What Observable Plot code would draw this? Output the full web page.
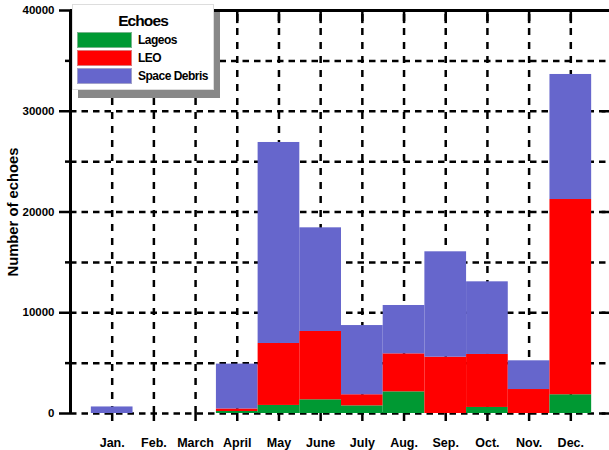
<!DOCTYPE html>
<html>
<head>
<meta charset="utf-8">
<script src="https://cdn.jsdelivr.net/npm/d3@7"></script>
<script src="https://cdn.jsdelivr.net/npm/@observablehq/plot@0.6"></script>
<style>
  html, body { margin: 0; padding: 0; background: #fff; overflow: hidden; }
  #wrap { position: relative; width: 609px; height: 450px; font-family: "Liberation Sans", Arial, sans-serif; }
  #legend { position: absolute; left: 72px; top: 4px; width: 142px; height: 86px; background: #fff;
    border: 1px solid #ddd; box-shadow: 6px 8px 0 #888; box-sizing: border-box; font-weight: bold; }
  #legend .title { position: absolute; left: 0; width: 100%; top: 8px; text-align: center; font-size: 15.5px; letter-spacing: -0.9px; line-height: 16px; }
  #legend .row { position: absolute; left: 4px; height: 16px; }
  #legend .sw { position: absolute; left: 0; top: 0; width: 55px; height: 16px; box-sizing: border-box; border: 1px solid rgba(200,200,200,0.6); }
  #legend .lab { position: absolute; left: 61px; top: 0; font-size: 12px; letter-spacing: -0.5px; line-height: 17px; white-space: nowrap; }
</style>
</head>
<body>
<div id="wrap"></div>
<script>
// ---- data ----
const months = ["Jan.", "Feb.", "March", "April", "May", "June", "July", "Aug.", "Sep.", "Oct.", "Nov.", "Dec."];
const series = ["Lageos", "LEO", "Space Debris"];
const colors = ["#009933", "#ff0000", "#6666cc"];
const lageos      = [0, 0, 0, 200, 800, 1360, 760, 2150, 0, 600, 0, 1860];
const leo         = [0, 0, 0, 250, 6150, 6780, 1100, 3770, 5590, 5260, 2380, 19380];
const spaceDebris = [650, 0, 0, 4450, 19950, 10290, 6870, 4800, 10460, 7210, 2850, 12410];
const yTicks = [0, 10000, 20000, 30000, 40000];
const yMinor = [5000, 15000, 25000, 35000];

// ---- build stacked records ----
const values = [lageos, leo, spaceDebris];
const rows = [];
months.forEach((m, i) => {
  let base = 0;
  values.forEach((arr, s) => {
    const v = arr[i];
    rows.push({m: i + 1, series: series[s], y1: base, y2: base + v});
    base += v;
  });
});
const idx = months.map((m, i) => i + 1);

const chart = Plot.plot({
  width: 609,
  height: 450,
  marginTop: 10,
  marginBottom: 37,
  marginLeft: 70,
  marginRight: 0,
  style: {fontFamily: "'Liberation Sans', Arial, sans-serif", fontWeight: "bold", overflow: "visible"},
  x: {domain: [0, 13], range: [70, 612]},
  y: {domain: [0, 40000]},
  color: {domain: series, range: colors},
  marks: [
    // gridlines
    Plot.ruleY([0, ...yMinor, 10000, 20000, 30000], {x1: 0, x2: 13, stroke: "#000", strokeWidth: 2.5, strokeDasharray: "6.5,5"}),
    Plot.ruleX(idx, {y1: 0, y2: 40000, stroke: "#000", strokeWidth: 2.5, strokeDasharray: "7,7"}),
    // bars
    Plot.rect(rows.filter(d => d.y2 > d.y1), {x1: d => d.m - 0.5, x2: d => d.m + 0.5, y1: "y1", y2: "y2", fill: "series"}),
    // frame
    Plot.ruleX([0], {y1: 0, y2: 40000, stroke: "#000", strokeWidth: 3}),
    Plot.ruleY([40000], {x1: 0, x2: 13, stroke: "#000", strokeWidth: 3}),
    // top inward ticks
    Plot.ruleX(idx, {y1: 40000, y2: 38700, stroke: "#000", strokeWidth: 2.5}),
    // right inward ticks
    Plot.ruleY(yTicks, {x1: 12.75, x2: 13, stroke: "#000", strokeWidth: 2.5}),
    // axes
    Plot.axisY(yTicks, {tickSize: 11, tickPadding: 5, tickFormat: d => String(d), fontSize: 11.5, fontWeight: "bold", strokeWidth: 2.5, label: null}),
    Plot.axisY(yMinor, {tickSize: 5, tickFormat: () => "", strokeWidth: 2.5, label: null}),
    Plot.axisX(idx, {tickSize: 8, tickPadding: 17, tickFormat: d => months[d - 1], fontSize: 12.5, fontWeight: "bold", strokeWidth: 2.5, label: null}),
    Plot.text(["Number of echoes"], {frameAnchor: "left", dx: -57, rotate: -90, textAnchor: "middle", lineAnchor: "middle", fontSize: 14.8, fontWeight: "bold"})
  ]
});

const wrap = document.getElementById("wrap");
wrap.appendChild(chart);

// legend
const legend = document.createElement("div");
legend.id = "legend";
const title = document.createElement("div");
title.className = "title";
title.textContent = "Echoes";
legend.appendChild(title);
const tops = [27, 45, 63];
series.forEach((s, i) => {
  const r = document.createElement("div");
  r.className = "row";
  r.style.top = tops[i] + "px";
  const sw = document.createElement("div");
  sw.className = "sw";
  sw.style.background = colors[i];
  const lab = document.createElement("div");
  lab.className = "lab";
  lab.textContent = s;
  r.appendChild(sw);
  r.appendChild(lab);
  legend.appendChild(r);
});
wrap.appendChild(legend);
</script>
</body>
</html>
